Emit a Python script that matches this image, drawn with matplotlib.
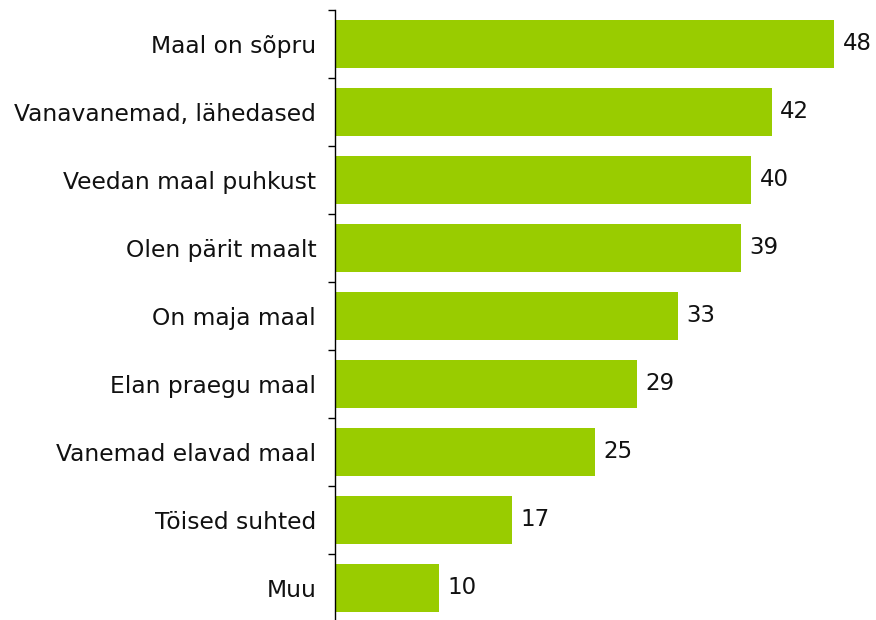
import matplotlib.pyplot as plt
import numpy as np

categories = ['Maal on sõpru', 'Vanavanemad, lähedased', 'Veedan maal puhkust',
              'Olen pärit maalt', 'On maja maal', 'Elan praegu maal',
              'Vanemad elavad maal', 'Töised suhted', 'Muu']
values = [48, 42, 40, 39, 33, 29, 25, 17, 10]

W, H = 876, 620
fig = plt.figure(figsize=(W / 100, H / 100), dpi=100)
# axes placed in pixel coordinates: spine at x=335, bands from y=10 to 622
ax = fig.add_axes([335 / W, (H - 622) / H, (876 - 335) / W, 612 / H])

y = np.arange(len(categories))
ax.barh(y, values, height=0.7, color='#99CC00')

for yi, v in zip(y, values):
    ax.text(v + 0.8, yi, str(v), va='center', ha='left', fontsize=16.5, color='#111111')

ax.set_xlim(0, 52)
ax.set_ylim(len(categories) - 0.5, -0.5)

ax.set_yticks(np.arange(-0.5, len(categories)), minor=False)
ax.set_yticklabels([])
ax.set_yticks(y, minor=True)
ax.set_yticklabels(categories, minor=True, fontsize=16.8, color='#111111')
ax.tick_params(axis='y', which='major', length=5, width=1, color='black')
ax.tick_params(axis='y', which='minor', length=0, pad=13.5)

ax.set_xticks([])
for s in ['top', 'right', 'bottom']:
    ax.spines[s].set_visible(False)
ax.spines['left'].set_color('black')
ax.spines['left'].set_linewidth(1)

fig.savefig('out.png', dpi=100)
